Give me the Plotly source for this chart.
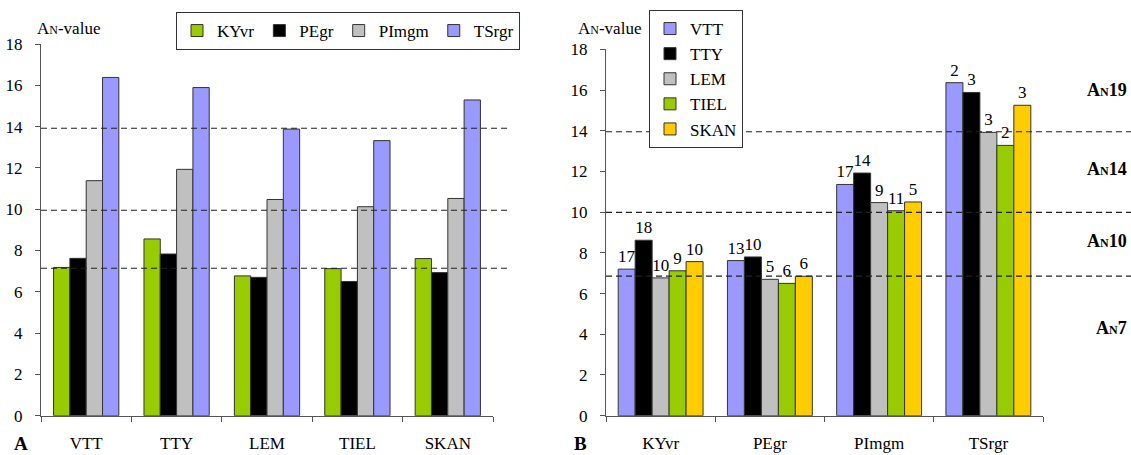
import plotly.graph_objects as go

# ---------------- data ----------------
sites = ["VTT", "TTY", "LEM", "TIEL", "SKAN"]
species = ["KYvr", "PEgr", "PImgm", "TSrgr"]

# Panel A: values per species (series) across sites (categories)
kyvr_vals = [7.18, 8.56, 6.77, 7.12, 7.61]
pegr_vals = [7.62, 7.83, 6.70, 6.50, 6.93]
pimgm_vals = [11.38, 11.93, 10.47, 10.12, 10.52]
tsrgr_vals = [16.38, 15.89, 13.88, 13.32, 15.29]

# Panel B: values per site (series) across species (categories)
vtt_vals = [7.20, 7.62, 11.36, 16.36]
tty_vals = [8.62, 7.80, 11.92, 15.88]
lem_vals = [6.77, 6.70, 10.47, 13.92]
tiel_vals = [7.12, 6.50, 10.07, 13.28]
skan_vals = [7.57, 6.85, 10.50, 15.25]

# counts shown above bars in panel B
vtt_n = [17, 13, 17, 2]
tty_n = [18, 10, 14, 3]
lem_n = [10, 5, 9, 3]
tiel_n = [9, 6, 11, 2]
skan_n = [10, 6, 5, 3]

# threshold lines
thr_a = [13.92, 9.95, 7.14]
thr_b = [13.95, 9.99, 6.86]
thr_b_labels = ["19", "14", "10", "7"]
thr_b_label_y = [16.0, 12.1, 8.6, 4.3]

yticks = [0, 2, 4, 6, 8, 10, 12, 14, 16, 18]

# ---------------- style ----------------
FONT = "Liberation Serif, Tinos, Times New Roman, DejaVu Serif, serif"
C_GREEN = "#99CC00"
C_BLACK = "#000000"
C_GRAY = "#C0C0C0"
C_LAV = "#9999FF"
C_YEL = "#FFCC00"
LINE = dict(color="#333333", width=1)
DASH = "6px,4px"

fig = go.Figure()

def add_group(xcats, series, names, colors, gap, xaxis, yaxis, legend, texts=None):
    n = len(series)
    w = (1 - gap) / n
    for i, (vals, nm, col) in enumerate(zip(series, names, colors)):
        kw = {}
        if texts is not None:
            kw = dict(text=[str(t) for t in texts[i]], textposition="outside",
                      textfont=dict(family=FONT, size=17, color="black"),
                      constraintext="none", cliponaxis=False)
        fig.add_trace(go.Bar(
            x=xcats, y=vals, name=nm, marker=dict(color=col, line=LINE),
            width=w, offset=-(1 - gap) / 2 + i * w,
            xaxis=xaxis, yaxis=yaxis, legend=legend, **kw))

add_group(sites, [kyvr_vals, pegr_vals, pimgm_vals, tsrgr_vals], species,
          [C_GREEN, C_BLACK, C_GRAY, C_LAV], 0.278, "x", "y", "legend")
add_group(species, [vtt_vals, tty_vals, lem_vals, tiel_vals, skan_vals], sites,
          [C_LAV, C_BLACK, C_GRAY, C_GREEN, C_YEL], 0.223, "x2", "y2", "legend2",
          texts=[vtt_n, tty_n, lem_n, tiel_n, skan_n])

W, H = 1131, 455
def px(x):
    return x / W
def py(y):
    return 1 - y / H

axis_common = dict(showgrid=False, zeroline=False, showline=True,
                   linecolor="#555555", linewidth=1, ticks="outside",
                   tickcolor="#555555", ticklen=5,
                   tickfont=dict(family=FONT, size=17, color="black"))

fig.update_layout(
    width=W, height=H, margin=dict(l=0, r=0, t=0, b=0, autoexpand=False),
    paper_bgcolor="white", plot_bgcolor="white",
    barmode="group", showlegend=True,
    font=dict(family=FONT, size=17, color="black"),
    xaxis=dict(domain=[px(41), px(493)], anchor="y", tickson="boundaries",
               ticklabelstandoff=12, **axis_common),
    yaxis=dict(domain=[py(415.7), py(44)], anchor="x", range=[0, 18],
               tickvals=yticks, ticklabelstandoff=9, **axis_common),
    xaxis2=dict(domain=[px(606), px(1043)], anchor="y2", tickson="boundaries",
                ticklabelstandoff=12, **axis_common),
    yaxis2=dict(domain=[py(415.7), py(49.3)], anchor="x2", range=[0, 18],
                tickvals=yticks, ticklabelstandoff=9, **axis_common),
    legend=dict(orientation="h", x=px(348), y=py(12), xanchor="center", yanchor="top",
                bordercolor="#333333", borderwidth=1, bgcolor="white",
                font=dict(family=FONT, size=17), itemwidth=30, tracegroupgap=0),
    legend2=dict(orientation="v", x=px(649), y=py(10), xanchor="left", yanchor="top",
                 bordercolor="#333333", borderwidth=1, bgcolor="white",
                 font=dict(family=FONT, size=17), itemwidth=30, tracegroupgap=0),
)

shapes = []
for t in thr_a:
    shapes.append(dict(type="line", xref="paper", yref="y", x0=px(41), x1=px(507),
                       y0=t, y1=t, line=dict(color="#222222", width=1.2, dash=DASH),
                       layer="above"))
for t in thr_b:
    shapes.append(dict(type="line", xref="paper", yref="y2", x0=px(606), x1=1,
                       y0=t, y1=t, line=dict(color="#222222", width=1.2, dash=DASH),
                       layer="above"))
fig.update_layout(shapes=shapes)

ann = []
ylab = "A<span style='font-size:12px'>N</span>-value"
ann.append(dict(x=px(35), y=py(28), xref="paper", yref="paper", text=ylab,
                showarrow=False, xanchor="left", yanchor="middle",
                font=dict(family=FONT, size=17)))
ann.append(dict(x=px(576), y=py(28), xref="paper", yref="paper", text=ylab,
                showarrow=False, xanchor="left", yanchor="middle",
                font=dict(family=FONT, size=17)))
ann.append(dict(x=px(12), y=py(443), xref="paper", yref="paper", text="<b>A</b>",
                showarrow=False, xanchor="left", yanchor="middle",
                font=dict(family=FONT, size=19)))
ann.append(dict(x=px(572), y=py(443), xref="paper", yref="paper", text="<b>B</b>",
                showarrow=False, xanchor="left", yanchor="middle",
                font=dict(family=FONT, size=19)))
for lab, yy in zip(thr_b_labels, thr_b_label_y):
    ann.append(dict(x=px(1129), y=yy, xref="paper", yref="y2",
                    text="<b>A<span style='font-size:12px'>N</span>" + lab + "</b>",
                    showarrow=False, xanchor="right", yanchor="middle",
                    font=dict(family=FONT, size=18)))
fig.update_layout(annotations=ann)

fig.write_html("out.html", config={"displayModeBar": False},
               post_script="document.body.style.margin='0px';document.body.style.overflow='hidden';")
